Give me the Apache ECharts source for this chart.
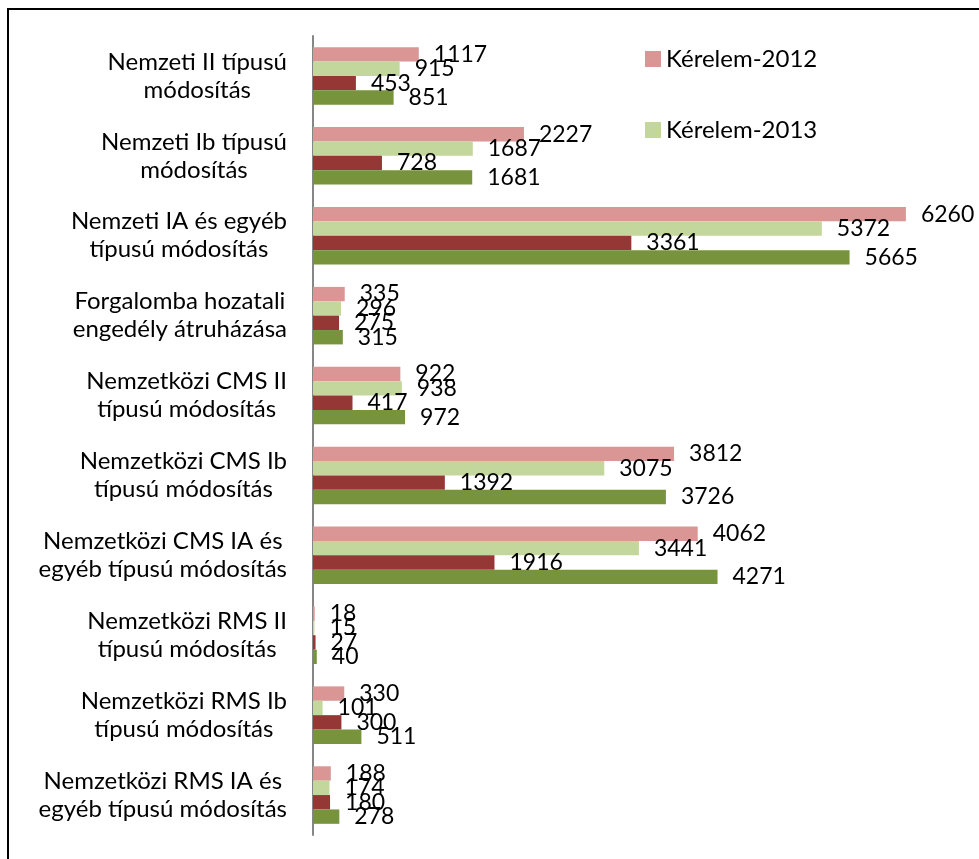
<!DOCTYPE html>
<html>
<head>
<meta charset="utf-8">
<script src="https://cdn.jsdelivr.net/npm/echarts@6/dist/echarts.min.js"></script>
<style>
	html, body { margin: 0; padding: 0; background: #fff; }
	#chart { width: 979px; height: 859px; }
</style>
</head>
<body>
<div id="chart"></div>
<script>
// categories, top to bottom
const categories = [
	"Nemzeti II típusú\nmódosítás",
	"Nemzeti Ib típusú\nmódosítás",
	"Nemzeti IA és egyéb\ntípusú módosítás",
	"Forgalomba hozatali\nengedély átruházása",
	"Nemzetközi CMS II\ntípusú módosítás",
	"Nemzetközi CMS Ib\ntípusú módosítás",
	"Nemzetközi CMS IA és\negyéb típusú módosítás",
	"Nemzetközi RMS II\ntípusú módosítás",
	"Nemzetközi RMS Ib\ntípusú módosítás",
	"Nemzetközi RMS IA és\negyéb típusú módosítás"
];
const kerelem2012 = [1117, 2227, 6260, 335, 922, 3812, 4062, 18, 330, 188];
const kerelem2013 = [915, 1687, 5372, 296, 938, 3075, 3441, 15, 101, 174];
const sorozat3 = [453, 728, 3361, 275, 417, 1392, 1916, 27, 300, 180];
const sorozat4 = [851, 1681, 5665, 315, 972, 3726, 4271, 40, 511, 278];

const FONT = "Lato";
const chart = echarts.init(document.getElementById("chart"), null, { renderer: "canvas" });

function makeSeries(name, data, color) {
	return {
		name,
		type: "bar",
		data,
		barGap: "0%",
		barCategoryGap: "28%",
		itemStyle: { color },
		label: {
			show: true,
			position: "right",
			distance: 15,
			color: "#000",
			fontFamily: FONT,
			fontSize: 23
		}
	};
}

chart.setOption({
	animation: false,
	backgroundColor: "#fff",
	graphic: [
		{
			type: "rect",
			shape: { x: 8, y: 9, width: 1000, height: 900 },
			style: { fill: "none", stroke: "#000", lineWidth: 2 },
			silent: true
		}
	],
	legend: {
		data: ["Kérelem-2012", "Kérelem-2013"],
		orient: "vertical",
		left: 640,
		top: 42,
		itemWidth: 16,
		itemHeight: 16,
		itemGap: 47,
		icon: "rect",
		textStyle: { fontFamily: FONT, fontSize: 24, color: "#000" }
	},
	grid: { left: 313, right: 3, top: 36, bottom: 24, containLabel: false },
	xAxis: {
		type: "value",
		min: 0,
		max: 7000,
		show: false
	},
	yAxis: {
		type: "category",
		data: categories,
		inverse: true,
		axisLine: { lineStyle: { color: "#868686", width: 2 } },
		axisTick: { length: 7, lineStyle: { color: "#868686", width: 2 } },
		axisLabel: {
			margin: 26,
			color: "#000",
			formatter: v => v.split("\n").map(l => "{c|" + l + "}").join("\n"),
			rich: {
				c: { align: "center", fontFamily: FONT, fontSize: 24, lineHeight: 28, color: "#000" }
			}
		}
	},
	series: [
		makeSeries("Kérelem-2012", kerelem2012, "#D99694"),
		makeSeries("Kérelem-2013", kerelem2013, "#C3D69B"),
		makeSeries("Sorozat 3", sorozat3, "#953735"),
		makeSeries("Sorozat 4", sorozat4, "#77933C")
	]
});
</script>
</body>
</html>
